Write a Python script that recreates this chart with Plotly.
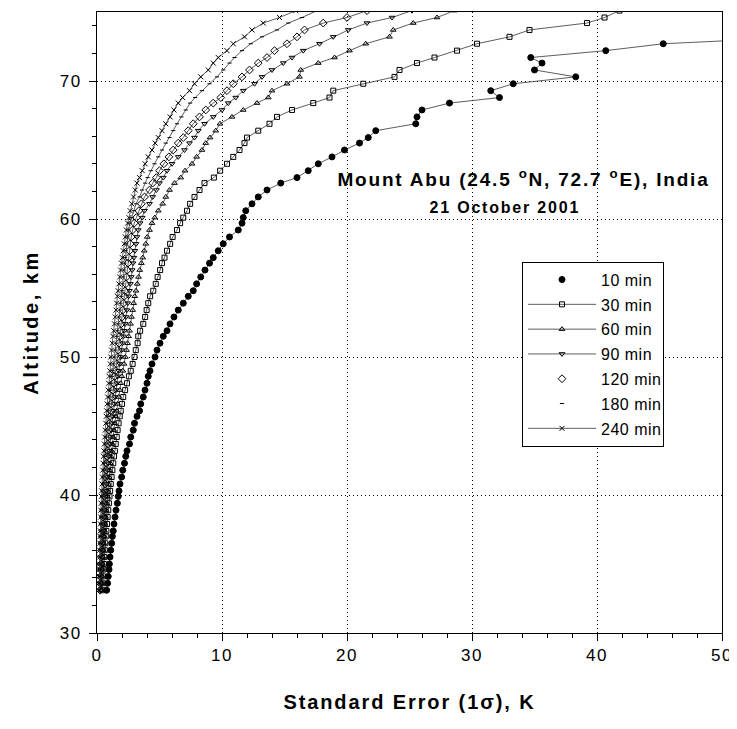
import plotly.graph_objects as go

# altitude bins of the lidar profile, km
altitude = [33.1, 33.6, 34.1, 34.6, 35.0, 35.5, 36.0, 36.5, 37.0, 37.4,
            37.9, 38.4, 38.9, 39.4, 39.9, 40.3, 40.8, 41.3, 41.8, 42.3,
            42.8, 43.2, 43.7, 44.2, 44.7, 45.2, 45.7, 46.1, 46.6, 47.1,
            47.6, 48.1, 48.6, 49.0, 49.5, 50.0, 50.5, 51.0, 51.5, 51.9,
            52.4, 52.9, 53.4, 53.9, 54.4, 54.8, 55.3, 55.8, 56.3, 56.8,
            57.2, 57.7, 58.2, 58.7, 59.2, 59.7, 60.1, 60.6, 61.1, 61.6,
            62.1, 62.6, 63.0, 63.5, 64.0, 64.5, 65.0, 65.5, 65.9, 66.4,
            66.9, 67.4, 67.9, 68.4, 68.8, 69.3, 69.8, 70.3, 70.8, 71.3,
            71.7, 72.2, 72.7, 73.2, 73.7, 74.2, 74.6, 75.1]

# standard error (K) for each integration time
err_10 = [0.77, 0.85, 0.90, 0.96, 0.99, 1.04, 1.10, 1.17, 1.23, 1.30,
          1.36, 1.44, 1.52, 1.63, 1.70, 1.76, 1.84, 1.97, 2.06, 2.2,
          2.3, 2.4, 2.6, 2.7, 2.9, 3.0, 3.2, 3.4, 3.5, 3.7,
          3.84, 4.0, 4.1, 4.24, 4.4, 4.64, 4.8, 5.04, 5.3, 5.6,
          5.84, 6.16, 6.5, 6.9, 7.3, 7.7, 7.97, 8.3, 8.64, 9.0,
          9.3, 9.7, 10.1, 10.6, 11.3, 11.6, 11.7, 11.9, 12.4, 12.9,
          13.6, 14.7, 16.0, 16.9, 17.7, 18.8, 19.8, 21.0, 21.7, 22.3,
          25.5, 25.6, 26.0, 28.2, 32.2, 31.5, 33.3, 38.3, 35.0, 35.6,
          34.7, 40.7, 45.3, 57.0]
err_30 = [0.42, 0.45, 0.48, 0.52, 0.55, 0.58, 0.62, 0.66, 0.7, 0.75,
          0.8, 0.85, 0.9, 0.95, 1.0, 1.05, 1.1, 1.17, 1.23, 1.3,
          1.36, 1.43, 1.5, 1.58, 1.65, 1.73, 1.82, 1.9, 2.0, 2.1,
          2.25, 2.4, 2.55, 2.7, 2.85, 3.0, 3.1, 3.25, 3.3, 3.45,
          3.7, 3.85, 3.97, 4.1, 4.25, 4.5, 4.7, 4.85, 5.05, 5.2,
          5.4, 5.6, 5.85, 6.05, 6.4, 6.65, 6.9, 7.2, 7.45, 7.8,
          8.2, 8.6, 9.35, 9.85, 10.4, 10.9, 11.4, 11.8, 12.0, 12.9,
          13.8, 14.4, 15.6, 17.3, 18.6, 18.9, 21.3, 23.8, 24.2, 25.6,
          27.0, 28.8, 30.4, 33.0, 34.6, 39.2, 40.6, 41.8]
err_60 = [0.35, 0.37, 0.40, 0.42, 0.45, 0.48, 0.51, 0.54, 0.58, 0.61,
          0.65, 0.69, 0.73, 0.78, 0.83, 0.87, 0.92, 0.97, 1.02, 1.07,
          1.12, 1.17, 1.23, 1.29, 1.35, 1.42, 1.5, 1.57, 1.65, 1.73,
          1.82, 1.9, 1.98, 2.07, 2.17, 2.27, 2.36, 2.44, 2.53, 2.6,
          2.68, 2.76, 2.85, 2.93, 3.02, 3.12, 3.22, 3.32, 3.42, 3.55,
          3.66, 3.78, 3.9, 4.02, 4.2, 4.4, 4.62, 4.9, 5.25, 5.5,
          5.8, 6.2, 6.7, 7.04, 7.6, 7.97, 8.4, 8.7, 9.04, 9.5,
          9.84, 10.8, 11.7, 12.8, 13.7, 14.0, 15.2, 16.2, 16.3, 17.7,
          19.0, 20.2, 21.5, 23.4, 23.7, 25.3, 27.2, 28.6]
err_90 = [0.3, 0.32, 0.34, 0.36, 0.38, 0.41, 0.44, 0.47, 0.5, 0.53,
          0.56, 0.59, 0.62, 0.66, 0.7, 0.74, 0.78, 0.82, 0.86, 0.9,
          0.95, 1.0, 1.05, 1.1, 1.15, 1.2, 1.26, 1.32, 1.38, 1.45,
          1.52, 1.59, 1.66, 1.74, 1.82, 1.9, 1.97, 2.04, 2.11, 2.18,
          2.25, 2.32, 2.39, 2.46, 2.53, 2.6, 2.67, 2.74, 2.81, 2.88,
          2.95, 3.03, 3.12, 3.2, 3.3, 3.45, 3.62, 3.8, 4.2, 4.45,
          4.75, 5.0, 5.3, 5.6, 6.0, 6.5, 7.0, 7.4, 7.8, 8.1,
          8.6, 9.3, 10.0, 10.5, 11.1, 11.7, 12.6, 13.2, 14.0, 14.9,
          15.6, 16.5, 17.8, 18.9, 20.1, 21.6, 23.6, 25.2]
err_120 = [0.25, 0.27, 0.28, 0.3, 0.32, 0.34, 0.36, 0.39, 0.41, 0.44,
           0.46, 0.49, 0.52, 0.55, 0.58, 0.61, 0.64, 0.68, 0.71, 0.75,
           0.79, 0.83, 0.87, 0.91, 0.96, 1.0, 1.05, 1.1, 1.16, 1.22,
           1.28, 1.35, 1.42, 1.49, 1.57, 1.64, 1.7, 1.76, 1.82, 1.88,
           1.94, 2.0, 2.06, 2.12, 2.18, 2.24, 2.3, 2.36, 2.42, 2.48,
           2.54, 2.6, 2.66, 2.74, 2.85, 2.98, 3.15, 3.35, 3.55, 3.8,
           4.2, 4.45, 4.75, 5.0, 5.35, 5.75, 6.1, 6.5, 6.9, 7.3,
           7.7, 8.2, 8.7, 9.3, 9.9, 10.4, 10.9, 11.6, 12.2, 12.9,
           13.6, 14.2, 15.2, 16.0, 16.6, 18.1, 20.0, 21.6]
err_180 = [0.2, 0.21, 0.23, 0.24, 0.26, 0.27, 0.29, 0.31, 0.33, 0.35,
           0.37, 0.39, 0.41, 0.43, 0.45, 0.48, 0.51, 0.54, 0.57, 0.6,
           0.64, 0.67, 0.71, 0.75, 0.79, 0.84, 0.88, 0.93, 0.98, 1.03,
           1.08, 1.14, 1.2, 1.26, 1.33, 1.4, 1.46, 1.52, 1.58, 1.64,
           1.7, 1.76, 1.82, 1.88, 1.94, 1.99, 2.04, 2.09, 2.14, 2.19,
           2.24, 2.29, 2.34, 2.42, 2.52, 2.64, 2.78, 2.95, 3.12, 3.4,
           3.6, 3.85, 4.05, 4.3, 4.6, 4.9, 5.2, 5.5, 5.8, 6.1,
           6.4, 6.75, 7.1, 7.45, 7.85, 8.4, 9.0, 9.6, 10.1, 10.6,
           11.0, 11.6, 12.3, 13.2, 14.4, 15.3, 16.4, 17.6]
err_240 = [0.15, 0.16, 0.17, 0.18, 0.2, 0.21, 0.22, 0.24, 0.25, 0.27,
           0.28, 0.3, 0.31, 0.33, 0.35, 0.37, 0.4, 0.43, 0.46, 0.49,
           0.52, 0.55, 0.59, 0.62, 0.66, 0.7, 0.74, 0.77, 0.81, 0.85,
           0.89, 0.93, 0.97, 1.02, 1.06, 1.1, 1.16, 1.22, 1.28, 1.34,
           1.4, 1.46, 1.52, 1.57, 1.63, 1.69, 1.75, 1.82, 1.89, 1.96,
           2.03, 2.1, 2.18, 2.26, 2.35, 2.45, 2.55, 2.65, 2.78, 2.92,
           3.06, 3.2, 3.4, 3.62, 3.85, 4.1, 4.4, 4.65, 4.9, 5.2,
           5.5, 5.85, 6.15, 6.5, 6.85, 7.4, 7.8, 8.3, 8.9, 9.3,
           9.7, 10.4, 10.9, 11.8, 12.4, 13.3, 14.6, 15.9]

names = ["10 min", "30 min", "60 min", "90 min", "120 min", "180 min", "240 min"]
errors = [err_10, err_30, err_60, err_90, err_120, err_180, err_240]
symbols = ["circle", "square-open", "triangle-up-open", "triangle-down-open",
           "diamond-open", "line-ew-open", "x-thin-open"]
sizes = [6, 5, 5, 5, 6, 3, 5]
# legend of the original shows only the marker for these
marker_only_legend = {"10 min", "120 min", "180 min"}

FONT = "Liberation Sans, Arial, sans-serif"
LINE = "#333333"

fig = go.Figure()
for name, err, sym, size in zip(names, errors, symbols, sizes):
    alt = altitude[:len(err)]
    marker = dict(symbol=sym, size=size, color="black",
                  line=dict(color="black", width=1))
    if name in marker_only_legend:
        fig.add_trace(go.Scatter(x=err, y=alt, mode="lines",
                                 line=dict(color=LINE, width=0.8),
                                 showlegend=False, hoverinfo="skip"))
        fig.add_trace(go.Scatter(x=err, y=alt, mode="markers", name=name,
                                 legendgroup=name, marker=marker))
    else:
        fig.add_trace(go.Scatter(x=err, y=alt, mode="lines+markers", name=name,
                                 legendgroup=name,
                                 line=dict(color=LINE, width=0.8),
                                 marker=marker))

axis_common = dict(
    showline=True, linecolor="black", linewidth=1, mirror=True,
    ticks="outside", ticklen=7, tickwidth=1, tickcolor="black",
    showgrid=True, gridcolor="black", gridwidth=1, griddash="1px,3px",
    zeroline=False,
    tickfont=dict(family=FONT, size=17, color="black"),
)

fig.update_layout(
    width=729, height=721,
    margin=dict(l=89, r=15, t=4, b=96),
    paper_bgcolor="white", plot_bgcolor="white",
    font=dict(family=FONT, color="black"),
    xaxis=dict(
        range=[0, 50], tick0=0, dtick=10,
        minor=dict(dtick=2, ticks="outside", ticklen=4, tickcolor="black", showgrid=False),
        title=dict(text="<b>Standard Error (1σ), K</b>",
                   font=dict(family=FONT, size=20), standoff=30),
        **axis_common,
    ),
    yaxis=dict(
        range=[30, 75], tick0=30, dtick=10,
        minor=dict(dtick=2, ticks="outside", ticklen=4, tickcolor="black", showgrid=False),
        title=dict(text="<b>Altitude, km</b>",
                   font=dict(family=FONT, size=20), standoff=18),
        ticklabelstandoff=4,
        **axis_common,
    ),
    legend=dict(
        x=0.68, y=0.598, xanchor="left", yanchor="top",
        bordercolor="black", borderwidth=1, bgcolor="white",
        font=dict(family=FONT, size=16, color="black"),
        tracegroupgap=1, itemwidth=68,
    ),
    annotations=[
        dict(x=34.1, y=63.0, xref="x", yref="y", showarrow=False,
             text="<b>Mount Abu (24.5 <sup>o</sup>N, 72.7 <sup>o</sup>E), India</b>",
             font=dict(family=FONT, size=19, color="black")),
        dict(x=32.6, y=60.8, xref="x", yref="y", showarrow=False,
             text="<b>21 October 2001</b>",
             font=dict(family=FONT, size=16, color="black")),
    ],
)

# the original lettering is widely tracked
spacing_js = """
var gd = document.getElementById('{plot_id}');
function track(sel, v) {
  gd.querySelectorAll(sel).forEach(function (t) { t.style.letterSpacing = v; });
}
track('.xtick text', '1.5px');
track('.ytick text', '1.5px');
track('.g-xtitle text', '1.9px');
track('.g-ytitle text', '2.5px');
track('.annotation-text', '1.8px');
track('.legendtext', '0.5px');
"""

fig.write_html("out.html", post_script=spacing_js)
